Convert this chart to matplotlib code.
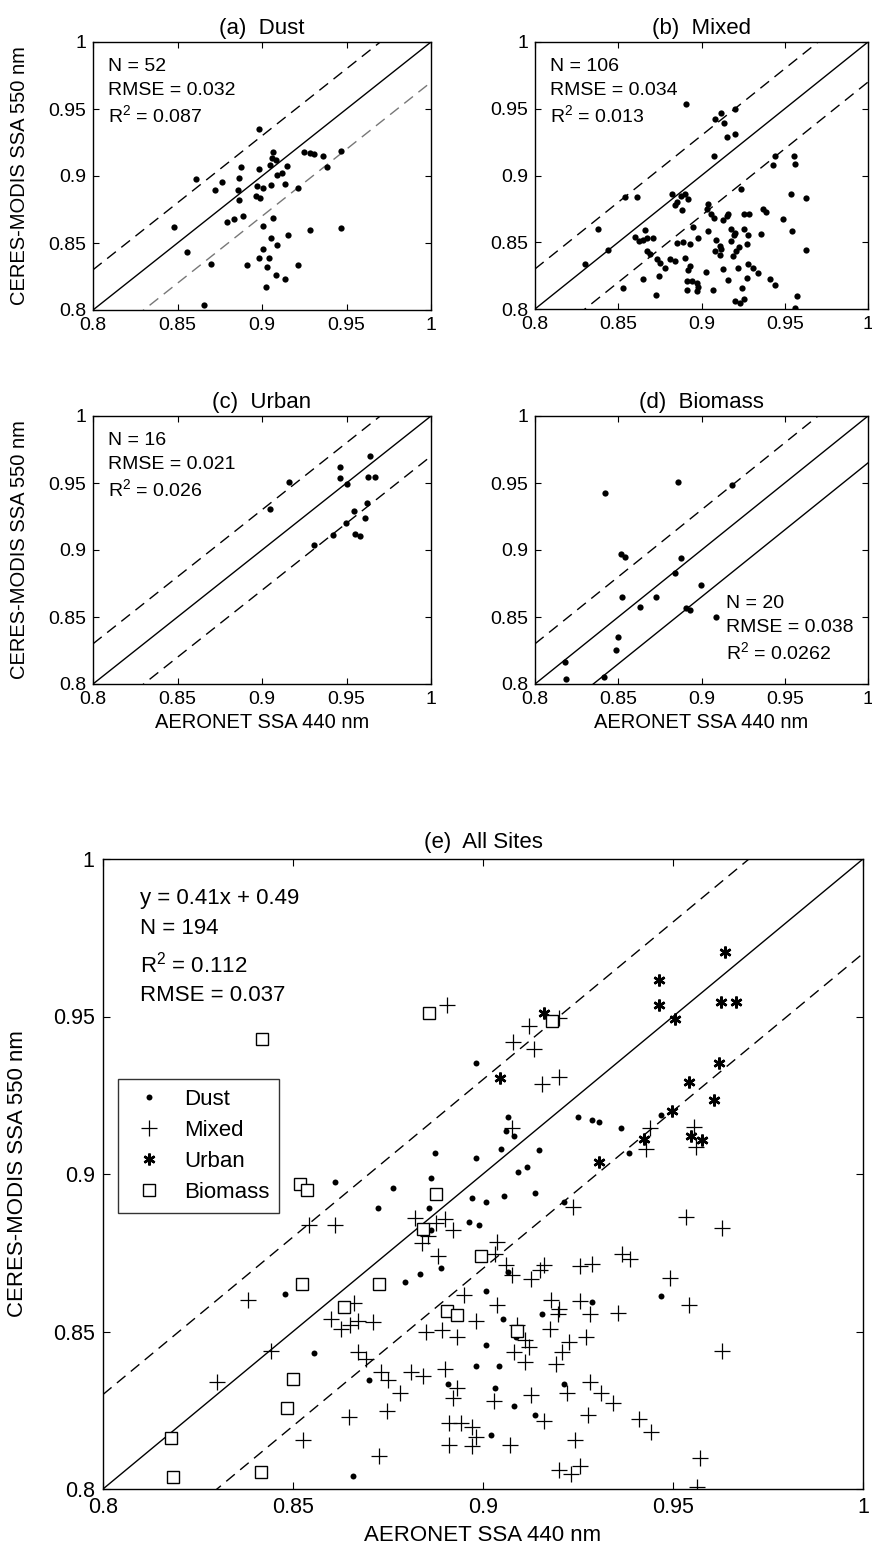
import matplotlib
matplotlib.use('Agg')
import matplotlib.pyplot as plt
from matplotlib.lines import Line2D

plt.rcParams['font.family'] = ['Liberation Sans', 'DejaVu Sans']
plt.rcParams['mathtext.default'] = 'regular'

# ---------------- data ----------------
dust_x = [0.8982, 0.9067, 0.9060, 0.9081, 0.9048, 0.9250, 0.9286, 0.9363, 0.9468, 0.9385,
          0.8873, 0.8982, 0.9147, 0.9091, 0.9117, 0.8611, 0.8764, 0.8863, 0.8724, 0.8857,
          0.8972, 0.9008, 0.9056, 0.9137, 0.9214, 0.8863, 0.8962, 0.8794, 0.8833, 0.8889,
          0.9067, 0.9008, 0.8480, 0.9286, 0.9468, 0.9052, 0.9155, 0.8556, 0.9008, 0.9087,
          0.8700, 0.8909, 0.8982, 0.9042, 0.9032, 0.9214, 0.9081, 0.9137, 0.9022, 0.8657,
          0.9305, 0.8990]
dust_y = [0.9353, 0.9180, 0.9137, 0.9122, 0.9080, 0.9180, 0.9170, 0.9147, 0.9187, 0.9067,
          0.9067, 0.9050, 0.9075, 0.9005, 0.9022, 0.8975, 0.8955, 0.8987, 0.8893, 0.8893,
          0.8925, 0.8910, 0.8930, 0.8940, 0.8910, 0.8823, 0.8848, 0.8657, 0.8682, 0.8701,
          0.8689, 0.8627, 0.8620, 0.8595, 0.8614, 0.8540, 0.8557, 0.8433, 0.8458, 0.8483,
          0.8346, 0.8333, 0.8390, 0.8390, 0.8320, 0.8333, 0.8264, 0.8234, 0.8172, 0.8041,
          0.9165, 0.8838]

mixed_x = [0.8906, 0.9080, 0.9120, 0.9135, 0.9200, 0.9155, 0.9201, 0.9076, 0.9440, 0.9428,
           0.9554, 0.9560,
           0.8541, 0.8611, 0.8855, 0.8875, 0.8901, 0.8921, 0.8881, 0.9237, 0.9535, 0.9628,
           0.9037, 0.9031, 0.9075, 0.9127, 0.9151, 0.9255, 0.9287, 0.9367, 0.9387, 0.9492,
           0.9542, 0.9628, 0.9355, 0.9255, 0.9281, 0.9271, 0.9197, 0.9175, 0.9227, 0.9207,
           0.9191, 0.9111, 0.9081, 0.9111, 0.9037, 0.8981, 0.8951, 0.8851, 0.8891, 0.8931,
           0.8661, 0.8671, 0.8711, 0.8601, 0.8627, 0.8671, 0.8691, 0.8731, 0.8751, 0.8781,
           0.8441, 0.8381, 0.8301, 0.8647, 0.8747, 0.8527, 0.8727, 0.8811, 0.8841, 0.8931,
           0.8921, 0.8911, 0.8941, 0.8971, 0.8981, 0.8911, 0.8971, 0.9071, 0.9127, 0.9161,
           0.9221, 0.9281, 0.9311, 0.9275, 0.9341, 0.9241, 0.9411, 0.9441, 0.9201, 0.9231,
           0.9255, 0.9572, 0.9562,
           0.8820, 0.8840, 0.9060, 0.9120, 0.9090, 0.8650, 0.9200, 0.9180, 0.8900, 0.9030,
           0.9160]
mixed_y = [0.9535, 0.9420, 0.9470, 0.9396, 0.9495, 0.9286, 0.9308, 0.9147, 0.9147, 0.9080,
           0.9149, 0.9087,
           0.8838, 0.8838, 0.8803, 0.8846, 0.8858, 0.8821, 0.8739, 0.8896, 0.8863, 0.8828,
           0.8783, 0.8746, 0.8679, 0.8666, 0.8696, 0.8709, 0.8714, 0.8746, 0.8729, 0.8671,
           0.8584, 0.8439, 0.8559, 0.8596, 0.8554, 0.8484, 0.8554, 0.8509, 0.8467, 0.8434,
           0.8397, 0.8472, 0.8434, 0.8404, 0.8584, 0.8534, 0.8616, 0.8497, 0.8504, 0.8484,
           0.8589, 0.8534, 0.8529, 0.8539, 0.8509, 0.8434, 0.8414, 0.8372, 0.8347, 0.8304,
           0.8439, 0.8601, 0.8339, 0.8227, 0.8247, 0.8155, 0.8105, 0.8372, 0.8359, 0.8322,
           0.8290, 0.8210, 0.8210, 0.8197, 0.8165, 0.8140, 0.8135, 0.8140, 0.8297, 0.8215,
           0.8304, 0.8339, 0.8304, 0.8235, 0.8272, 0.8155, 0.8222, 0.8180, 0.8060, 0.8047,
           0.8072, 0.8097, 0.8005,
           0.8860, 0.8780, 0.8710, 0.8450, 0.8520, 0.8520, 0.8570, 0.8600, 0.8380, 0.8280,
           0.8710]

urban_x = [0.9046, 0.9160, 0.9462, 0.9462, 0.9504, 0.9637, 0.9627, 0.9667, 0.9621, 0.9542,
           0.9607, 0.9498, 0.9423, 0.9548, 0.9577, 0.9306]
urban_y = [0.9306, 0.9510, 0.9617, 0.9535, 0.9493, 0.9704, 0.9547, 0.9547, 0.9353, 0.9291,
           0.9236, 0.9199, 0.9112, 0.9120, 0.9107, 0.9037]

biomass_x = [0.8418, 0.8857, 0.9181, 0.8518, 0.8538, 0.8876, 0.8843, 0.8996, 0.8524, 0.8727,
             0.8633, 0.8906, 0.8932, 0.9090, 0.8499, 0.8484, 0.8178, 0.8185, 0.8416]
biomass_y = [0.9428, 0.9510, 0.9485, 0.8968, 0.8950, 0.8938, 0.8826, 0.8739, 0.8652, 0.8652,
             0.8577, 0.8565, 0.8552, 0.8502, 0.8348, 0.8256, 0.8163, 0.8039, 0.8055]

ticks = [0.8, 0.85, 0.9, 0.95, 1.0]
tick_labels = ['0.8', '0.85', '0.9', '0.95', '1']

# ---------------- figure ----------------
W, H = 872, 1561
fig = plt.figure(figsize=(W / 100, H / 100), dpi=100)


def add_ax(l, t, r, b):
    return fig.add_axes([l / W, 1 - b / H, (r - l) / W, (b - t) / H])


def style(ax, fs):
    ax.set_xlim(0.8, 1.0)
    ax.set_ylim(0.8, 1.0)
    ax.set_xticks(ticks)
    ax.set_yticks(ticks)
    ax.set_xticklabels(tick_labels)
    ax.set_yticklabels(tick_labels)
    ax.tick_params(direction='in', top=True, right=True, length=4, width=0.8,
                   labelsize=fs, pad=5)
    for s in ax.spines.values():
        s.set_linewidth(1.0)


def ref_lines(ax, up=0.03, lo=0.03, lo_style='--', lo_color='k'):
    xs = [0.8, 1.0]
    ax.plot(xs, xs, '-', color='k', lw=1.0)
    ax.plot(xs, [x + up for x in xs], '--', color='k', lw=1.0, dashes=(8, 5))
    if lo_style == '--':
        ax.plot(xs, [x - lo for x in xs], '--', color=lo_color, lw=1.0, dashes=(8, 5))
    else:
        ax.plot(xs, [x - lo for x in xs], '-', color=lo_color, lw=1.0)


small_fs = 14
ann_fs = 14
title_fs = 16

panels = [
    ('(a)  Dust', (93, 42, 431, 310), dust_x, dust_y,
     ['N = 52', 'RMSE = 0.032', 'R$^2$ = 0.087'], 'tl'),
    ('(b)  Mixed', (535, 42, 868, 309), mixed_x, mixed_y,
     ['N = 106', 'RMSE = 0.034', 'R$^2$ = 0.013'], 'tl'),
    ('(c)  Urban', (93, 416, 431, 684), urban_x, urban_y,
     ['N = 16', 'RMSE = 0.021', 'R$^2$ = 0.026'], 'tl'),
    ('(d)  Biomass', (535, 416, 868, 684), biomass_x, biomass_y,
     ['N = 20', 'RMSE = 0.038', 'R$^2$ = 0.0262'], 'br'),
]

for i, (title, box, xs, ys, texts, pos) in enumerate(panels):
    ax = add_ax(*box)
    style(ax, small_fs)
    if i == 0:
        ref_lines(ax, lo_color='#777777')
    elif i == 3:
        ref_lines(ax, lo=0.035, lo_style='-')
    else:
        ref_lines(ax)
    ax.plot(xs, ys, 'o', color='k', ms=4.5, mec='k', mew=0, zorder=3)
    ax.set_title(title, fontsize=title_fs, pad=6)
    if pos == 'tl':
        x0, ys_t = 0.045, [0.907, 0.82, 0.727]
    else:
        x0, ys_t = 0.575, [0.30, 0.212, 0.12]
    for t, yy in zip(texts, ys_t):
        ax.text(x0, yy, t, transform=ax.transAxes, fontsize=ann_fs, va='center', ha='left')
    if i in (0, 2):
        ax.set_ylabel('CERES-MODIS SSA 550 nm', fontsize=14.5)
        ax.yaxis.set_label_coords(-0.19, 0.5)
    if i in (2, 3):
        ax.set_xlabel('AERONET SSA 440 nm', fontsize=14.5, labelpad=4)

# ---------------- panel (e) ----------------
axe = add_ax(103, 859, 863, 1489)
big_fs = 15.5
style(axe, big_fs)
axe.tick_params(length=5, pad=6)
ref_lines(axe)
axe.plot(dust_x, dust_y, 'o', color='k', ms=4.3, mew=0, zorder=3)
axe.plot(mixed_x, mixed_y, '+', color='k', ms=11, mew=0.9, zorder=3)
axe.plot(urban_x, urban_y, marker=(6, 2, 0), ls='none', color='k', ms=8.5, mew=1.8, zorder=3)
axe.plot(biomass_x, biomass_y, 's', mfc='white', mec='k', ms=8, mew=1.0, zorder=3)
axe.set_title('(e)  All Sites', fontsize=16, pad=8)
axe.set_xlabel('AERONET SSA 440 nm', fontsize=16, labelpad=5)
axe.set_ylabel('CERES-MODIS SSA 550 nm', fontsize=16)
axe.yaxis.set_label_coords(-0.099, 0.5)

for t, yy in zip(['y = 0.41x + 0.49', 'N = 194', 'R$^2$ = 0.112', 'RMSE = 0.037'],
                 [0.938, 0.890, 0.832, 0.784]):
    axe.text(0.049, yy, t, transform=axe.transAxes, fontsize=16, va='center', ha='left')

handles = [
    Line2D([], [], marker='o', ls='none', color='k', ms=4.3, mew=0),
    Line2D([], [], marker='+', ls='none', color='k', ms=11, mew=0.9),
    Line2D([], [], marker=(6, 2, 0), ls='none', color='k', ms=8.5, mew=1.8),
    Line2D([], [], marker='s', ls='none', mfc='white', mec='k', ms=8, mew=1.0),
]
leg = axe.legend(handles, ['Dust', 'Mixed', 'Urban', 'Biomass'], loc='upper left',
                 bbox_to_anchor=(0.02, 0.651), fontsize=16, frameon=True, fancybox=False,
                 edgecolor='k', handlelength=1.9, handletextpad=0.6, borderpad=0.45,
                 labelspacing=0.45, borderaxespad=0)
leg.get_frame().set_linewidth(1.0)

fig.savefig('out.png', dpi=100)
